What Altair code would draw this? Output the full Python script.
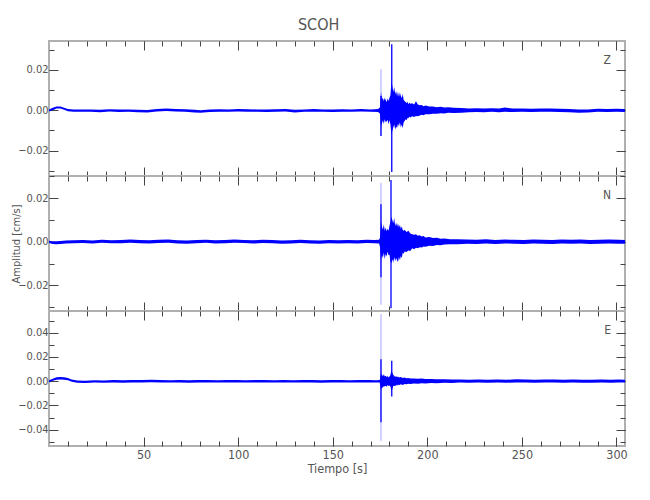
import altair as alt
import pandas as pd

# ---------------- axis definitions ----------------
X_DOMAIN = [0, 304.5]
X_MAJOR = [50, 100, 150, 200, 250, 300]
X_MINOR = list(range(10, 301, 10))

# ---------------- Z component (values in 1e-3 cm/s) ----------------
z_t = [0, 2, 4, 6, 8, 10, 13, 17, 22, 27, 32, 37, 42, 47, 52, 57, 62, 67, 72, 77, 80, 85, 90, 95,
       100, 105, 110, 115, 120, 125, 130, 135, 140, 145, 150, 155, 160, 165, 170, 174,
       175.0, 175.5, 176.0, 176.5, 177.0, 177.5, 178.0, 178.5, 179.0, 179.5, 180.0, 180.5,
       181.0, 181.5, 182.0, 182.5, 183.0, 183.5, 184.0, 184.5, 185.0, 185.5, 186.0, 186.5,
       187.0, 187.5, 188.0, 188.5, 189.0, 189.5, 190.0, 190.5, 191.0, 192, 193, 194, 195,
       196, 197, 198, 199, 201, 203, 205, 207, 209, 211, 214, 218, 222, 226, 230, 234, 238,
       241, 245, 250, 255, 260, 265, 270, 275, 280, 285, 290, 295, 300, 304.5]
z_hi = [0.4, 1.2, 1.9, 1.8, 1.2, 0.6, 0.3, 0.4, 0.3, 0.2, 0.5, 0.3, 0.4, 0.2, 0.1, 0.6, 0.8, 0.6,
        0.5, 0.2, 0.0, 0.3, 0.5, 0.4, 0.6, 0.5, 0.4, 0.3, 0.5, 0.6, 0.2, 0.4, 0.6, 0.4, 0.3,
        0.5, 0.4, 0.6, 0.4, 0.6,
        1.5, 9.0, 5.5, 6.0, 4.5, 6.2, 5.0, 4.0, 5.8, 4.5, 6.2, 7.5,
        14.0, 12.0, 9.0, 11.5, 8.0, 9.5, 7.0, 9.2, 6.5, 8.8, 7.0, 6.0,
        8.0, 5.0, 4.6, 4.0, 3.6, 4.2, 3.0, 3.8, 3.2, 3.5, 2.8, 4.4, 2.8,
        2.4, 2.6, 2.0, 2.3, 1.8, 1.9, 1.5, 1.7, 1.3, 1.5, 1.2, 1.1, 0.9, 1.0, 0.8, 1.0, 0.9,
        1.4, 0.8, 0.9, 0.7, 0.8, 0.9, 0.7, 0.6, 0.3, 0.4, 0.7, 0.6, 0.7, 0.6]
z_lo = [-0.6, 0.0, 0.8, 0.8, 0.2, -0.5, -0.8, -0.7, -0.8, -1.0, -0.6, -0.9, -0.8, -1.0, -1.1,
        -0.6, -0.4, -0.6, -0.7, -1.1, -1.3, -0.9, -0.7, -0.8, -0.6, -0.8, -0.8, -0.9, -0.7,
        -0.6, -1.1, -0.8, -0.7, -0.8, -0.9, -0.7, -0.8, -0.6, -0.8, -0.9,
        -1.8, -8.0, -6.5, -5.0, -6.8, -4.5, -6.0, -5.5, -4.8, -6.9, -5.0, -7.0,
        -12.0, -10.2, -8.5, -7.0, -9.5, -8.0, -8.8, -6.5, -8.0, -6.0, -8.5, -7.0,
        -8.9, -6.0, -5.3, -4.5, -5.0, -3.8, -4.0, -3.2, -3.6, -3.0, -3.4, -2.8, -3.0,
        -2.6, -2.2, -2.5, -2.0, -2.0, -1.7, -1.8, -1.5, -1.6, -1.3, -1.4, -1.2, -1.0, -0.9,
        -1.0, -0.8, -1.0, -0.8, -0.9, -0.8, -0.9, -0.8, -0.7, -0.9, -1.0, -1.3, -1.1, -0.8,
        -0.9, -0.8, -0.9]
z_strong_t, z_strong_hi, z_strong_lo = [175.5, 181.2], [7.0, 32.6], [-12.7, -30.5]
z_faint_t, z_faint_hi, z_faint_lo = [175.5], [20.3], [-12.7]

# ---------------- N component ----------------
n_t = [0, 2, 4, 6, 9, 13, 18, 23, 28, 33, 38, 43, 48, 53, 58, 63, 68, 73, 78, 83, 88, 93, 98,
       103, 108, 113, 118, 123, 128, 133, 138, 143, 148, 153, 158, 163, 168, 172, 174.5,
       175.0, 175.5, 176.0, 176.5, 177.0, 177.5, 178.0, 178.5, 179.0, 179.5, 180.0, 180.5,
       181.0, 181.5, 182.0, 182.5, 183.0, 183.5, 184.0, 184.5, 185.0, 185.5, 186.0, 186.5,
       187.0, 187.5, 188.0, 189, 190, 191, 192, 193, 194, 195, 196, 197, 198, 199, 201, 203,
       205, 207, 209, 212, 216, 221, 226, 231, 236, 241, 246, 251, 256, 261, 266, 271, 276,
       281, 286, 291, 296, 301, 304.5]
n_hi = [0.5, 0.2, 0.2, 0.3, 0.6, 0.7, 0.8, 0.6, 0.9, 0.7, 0.8, 1.0, 0.8, 0.7, 0.9, 1.0, 0.7,
        0.6, 0.8, 0.9, 0.7, 0.8, 1.0, 0.8, 0.7, 0.9, 0.8, 0.6, 0.7, 0.9, 0.7, 0.6, 0.8, 0.7,
        0.8, 0.7, 0.9, 0.8, 0.9,
        2.0, 9.3, 7.0, 5.5, 8.0, 5.0, 6.5, 4.8, 6.0, 5.0, 7.5, 9.0,
        11.6, 10.0, 8.5, 11.0, 7.2, 8.8, 7.0, 8.5, 6.5, 7.8, 6.0, 7.0,
        5.4, 5.0, 5.5, 4.5, 5.0, 3.8, 3.5, 3.2, 3.5, 2.8, 3.0, 2.4, 2.6, 2.0, 2.2,
        1.7, 1.8, 1.4, 1.5, 1.2, 1.1, 1.0, 0.9, 1.1, 0.8, 1.0, 0.9, 0.8, 1.0, 0.9, 0.8, 1.0,
        0.9, 1.0, 0.8, 0.9, 1.0, 0.9, 0.8]
n_lo = [-0.6, -1.0, -1.2, -1.0, -0.8, -0.7, -0.6, -0.8, -0.5, -0.7, -0.7, -0.5, -0.7, -0.8,
        -0.6, -0.5, -0.8, -0.9, -0.7, -0.5, -0.8, -0.7, -0.5, -0.6, -0.8, -0.6, -0.7, -0.9,
        -0.8, -0.6, -0.8, -0.9, -0.7, -0.8, -0.7, -0.8, -0.6, -0.7, -0.8,
        -2.5, -8.5, -6.0, -7.5, -5.0, -8.0, -5.5, -6.8, -4.5, -6.2, -6.0, -9.0,
        -10.0, -8.0, -9.6, -7.0, -9.0, -7.5, -8.5, -9.3, -7.0, -8.5, -6.5, -7.5,
        -5.0, -5.5, -4.5, -4.7, -4.0, -4.2, -3.0, -3.4, -2.8, -3.0, -2.5, -2.6, -2.2, -2.3,
        -1.8, -1.9, -1.5, -1.6, -1.3, -1.2, -1.1, -0.9, -1.0, -0.8, -1.0, -0.8, -0.9, -1.0,
        -0.8, -0.9, -1.0, -0.8, -0.9, -0.8, -1.0, -0.9, -0.8, -0.9, -0.9]
n_strong_t, n_strong_hi, n_strong_lo = [175.5, 180.8], [17.2, 28.4], [-16.3, -30.5]
n_faint_t, n_faint_hi, n_faint_lo = [175.5], [27.1], [-29.0]

# ---------------- E component ----------------
e_t = [0, 2, 4, 6, 8, 10, 12, 15, 19, 24, 29, 34, 39, 44, 49, 54, 59, 64, 69, 74, 79, 84, 89,
       94, 99, 104, 109, 114, 119, 124, 129, 134, 139, 144, 149, 154, 159, 164, 169, 173, 174.8,
       175.0, 175.5, 176.0, 176.5, 177.0, 177.5, 178.0, 178.5, 179.0, 179.5, 180.0, 180.5,
       181.0, 181.5, 182.0, 182.5, 183.0, 183.5, 184.0, 184.5, 185.0, 186, 187, 188, 189,
       190, 191, 193, 195, 197, 199, 202, 205, 209, 213, 217, 222, 227, 232, 237, 242, 247,
       252, 257, 262, 267, 272, 277, 282, 287, 292, 297, 301, 304.5]
e_hi = [0.8, 2.0, 3.2, 3.4, 3.2, 2.6, 1.4, 0.6, 0.4, 0.8, 0.6, 0.9, 0.7, 1.0, 0.9, 1.1, 1.0,
        0.8, 0.9, 0.7, 0.9, 1.0, 0.8, 0.9, 1.0, 0.8, 0.9, 1.0, 0.8, 0.9, 0.8, 1.0, 0.9, 0.8,
        1.0, 0.9, 0.8, 1.0, 0.9, 0.8, 1.0,
        2.0, 6.0, 5.5, 4.0, 5.8, 3.8, 4.5, 3.5, 4.2, 3.0, 3.8, 5.0,
        9.0, 7.0, 5.0, 4.4, 3.5, 4.2, 3.2, 3.8, 3.0, 3.5, 2.6, 3.0, 2.4,
        2.6, 2.2, 2.3, 2.0, 2.1, 1.8, 1.7, 1.5, 1.6, 1.3, 1.4, 1.2, 1.3, 1.1, 1.4, 1.2, 1.5,
        1.3, 1.2, 1.4, 1.3, 1.2, 1.4, 1.2, 1.1, 1.3, 1.2, 1.3, 1.2]
e_lo = [-0.8, 0.4, 1.2, 1.4, 1.2, 0.8, -0.4, -1.4, -1.6, -1.2, -1.4, -1.1, -1.3, -1.0, -1.1,
        -0.9, -1.0, -1.2, -1.1, -1.4, -1.1, -1.0, -1.2, -1.1, -1.0, -1.2, -1.1, -1.0, -1.2,
        -1.1, -1.2, -1.0, -1.1, -1.3, -1.0, -1.1, -1.2, -1.0, -1.1, -1.2, -1.1,
        -2.5, -7.0, -5.0, -5.5, -4.0, -4.5, -3.8, -4.6, -3.2, -4.0, -3.5, -4.5,
        -8.0, -6.5, -4.0, -3.8, -4.2, -3.0, -3.8, -2.8, -3.4, -2.6, -3.2, -2.4, -2.6,
        -2.2, -2.4, -2.0, -2.1, -1.8, -1.9, -1.6, -1.7, -1.4, -1.5, -1.2, -1.4, -1.2, -1.4,
        -1.1, -1.3, -1.0, -1.2, -1.3, -1.2, -1.1, -1.3, -1.1, -1.3, -1.4, -1.2, -1.3, -1.1,
        -1.2]
e_strong_t, e_strong_hi, e_strong_lo = [175.5, 181.2], [18.0, 16.8], [-34.0, -12.7]
e_faint_t, e_faint_hi, e_faint_lo = [175.5], [55.3], [-49.3]

PANELS = [
    dict(name="Z", t=z_t, hi=z_hi, lo=z_lo,
         strong=(z_strong_t, z_strong_hi, z_strong_lo), faint=(z_faint_t, z_faint_hi, z_faint_lo),
         ydom=[-0.0325, 0.0342], major=[-0.02, 0.0, 0.02],
         minor=[-0.03, -0.02, -0.01, 0.0, 0.01, 0.02, 0.03]),
    dict(name="N", t=n_t, hi=n_hi, lo=n_lo,
         strong=(n_strong_t, n_strong_hi, n_strong_lo), faint=(n_faint_t, n_faint_hi, n_faint_lo),
         ydom=[-0.0318, 0.0302], major=[-0.02, 0.0, 0.02],
         minor=[-0.03, -0.02, -0.01, 0.0, 0.01, 0.02, 0.03]),
    dict(name="E", t=e_t, hi=e_hi, lo=e_lo,
         strong=(e_strong_t, e_strong_hi, e_strong_lo), faint=(e_faint_t, e_faint_hi, e_faint_lo),
         ydom=[-0.0535, 0.0579], major=[-0.04, -0.02, 0.0, 0.02, 0.04],
         minor=[-0.05, -0.04, -0.03, -0.02, -0.01, 0.0, 0.01, 0.02, 0.03, 0.04, 0.05]),
]

FONT = "Liberation Sans Narrow, DejaVu Sans Condensed, Roboto Condensed, Liberation Sans, sans-serif"
TEXT_COLOR = "#555555"
BLUE = "#0000ff"
W, H = 576, 135
MAJ, MIN = 9, 5
SCALE = 1e-3


def axis(orient, values, size, labels=False, title=None, fmt=None, **extra):
    kw = dict(orient=orient, values=values, tickSize=size, offset=-size, domain=False,
              grid=False, labels=labels, ticks=True, title=title, labelPadding=1)
    if fmt:
        kw["format"] = fmt
    kw.update(extra)
    return alt.Axis(**kw)


def panel(p, bottom, ytitle):
    xs = alt.Scale(domain=X_DOMAIN, nice=False, zero=False)
    ys = alt.Scale(domain=p["ydom"], nice=False, zero=False)
    env = pd.DataFrame({"t": p["t"], "hi": [v * SCALE for v in p["hi"]],
                        "lo": [v * SCALE for v in p["lo"]]})
    st = pd.DataFrame({"t": p["strong"][0], "hi": [v * SCALE for v in p["strong"][1]],
                       "lo": [v * SCALE for v in p["strong"][2]]})
    ft = pd.DataFrame({"t": p["faint"][0], "hi": [v * SCALE for v in p["faint"][1]],
                       "lo": [v * SCALE for v in p["faint"][2]]})
    lab = pd.DataFrame({"t": [X_DOMAIN[1]], "v": [p["ydom"][1]], "name": [p["name"]]})

    xextra = {"titlePadding": 2, "labelFontSize": 12.5, "titleFontSize": 12.5,
              "labelPadding": 2} if bottom else {}
    yextra = {"titleX": -37} if ytitle else {}
    area = alt.Chart(env).mark_area(color=BLUE, opacity=1, interpolate="linear").encode(
        x=alt.X("t:Q", scale=xs,
                axis=axis("bottom", X_MAJOR, MAJ, labels=bottom,
                          title="Tiempo [s]" if bottom else None, fmt="d", **xextra)),
        y=alt.Y("hi:Q", scale=ys,
                axis=axis("left", p["major"], MAJ, labels=True, title=ytitle, fmt=".2f",
                          **yextra)),
        y2="lo:Q",
    )
    strong = alt.Chart(st).mark_rule(color=BLUE, strokeWidth=1.3).encode(
        x=alt.X("t:Q", scale=xs, axis=axis("bottom", X_MINOR, MIN)),
        y=alt.Y("hi:Q", scale=ys, axis=axis("left", p["minor"], MIN)),
        y2="lo:Q",
    )
    faint = alt.Chart(ft).mark_rule(color=BLUE, strokeWidth=1, opacity=0.35).encode(
        x=alt.X("t:Q", scale=xs, axis=axis("top", X_MAJOR, MAJ)),
        y=alt.Y("hi:Q", scale=ys, axis=axis("right", p["major"], MAJ)),
        y2="lo:Q",
    )
    label = alt.Chart(lab).mark_text(align="right", baseline="top", dx=-14, dy=14,
                                     fontSize=12, font=FONT, color=TEXT_COLOR).encode(
        x=alt.X("t:Q", scale=xs, axis=axis("top", X_MINOR, MIN)),
        y=alt.Y("v:Q", scale=ys, axis=axis("right", p["minor"], MIN)),
        text="name:N",
    )
    return alt.layer(faint, area, strong, label).resolve_axis(
        x="independent", y="independent").properties(width=W, height=H)


charts = [panel(PANELS[0], False, None), panel(PANELS[1], False, "Amplitud [cm/s]"),
          panel(PANELS[2], True, None)]

chart = alt.vconcat(*charts, spacing=0, bounds="flush").properties(
    title=alt.TitleParams("SCOH", fontSize=16, font=FONT, color=TEXT_COLOR,
                          fontWeight="normal", offset=7, anchor="middle"),
    padding={"left": 0, "top": 8, "right": 5, "bottom": 5},
).configure_view(
    stroke="#b0b0b0", strokeWidth=2
).configure_axis(
    labelFont=FONT, labelFontSize=11, labelColor=TEXT_COLOR,
    tickColor="#444444", tickWidth=1,
    titleFont=FONT, titleFontSize=11, titleFontWeight="normal", titleColor=TEXT_COLOR,
    titlePadding=0,
)

chart.save("out.html", embed_options={"renderer": "svg", "actions": False})
